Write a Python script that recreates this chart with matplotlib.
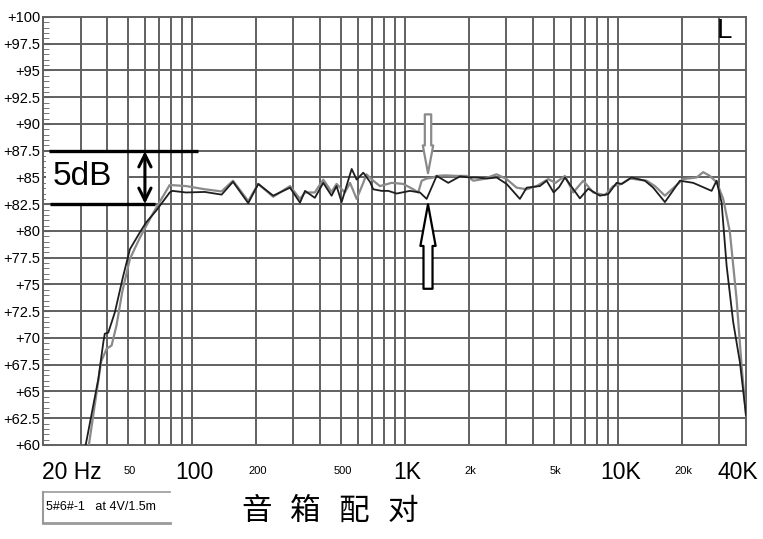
import numpy as np
import matplotlib
matplotlib.use('Agg')
import matplotlib.pyplot as plt
from matplotlib.patches import Rectangle, FancyArrowPatch
from matplotlib.lines import Line2D

plt.rcParams['font.family'] = ['Liberation Sans', 'Noto Sans CJK SC', 'DejaVu Sans']

# curve 1 (black) - frequency (Hz) / level (dB)
freq_black = [31.0, 31.8, 36.4, 38.4, 39.0, 40.5, 43.5, 47.6, 51.2, 57.1, 61, 68, 78.7, 81, 94,
              115, 138, 156, 184, 205, 241, 289, 322, 340, 378, 414, 453, 478, 505, 563,
              594, 638, 686, 711, 778, 836, 915, 1057, 1178, 1266, 1411, 1599, 1814, 2022,
              2174, 2422, 2698, 3006, 3470, 3732, 4308, 4632, 5000, 5300, 5646, 6638, 7262,
              8242, 9016, 9872, 10424, 11610, 13412, 14668, 16646, 19572, 22600, 27580,
              29100, 30720, 32440, 34820, 37440, 40000]
spl_black = [59.2, 60.1, 66.2, 69.6, 70.4, 70.5, 72.4, 75.8, 78.3, 79.9, 80.8, 81.9, 83.6, 83.75, 83.6,
             83.65, 83.4, 84.6, 82.6, 84.4, 83.3, 84.05, 82.65, 83.75, 83.1, 84.5, 83.3, 84.2, 82.7, 85.8,
             84.8, 85.45, 84.6, 83.9, 83.75, 83.75, 83.5, 83.75, 83.6, 83.0, 85.15, 84.5, 85.1, 85.0,
             85.0, 84.9, 85.0, 84.4, 83.0, 84.05, 84.2, 84.7, 83.6, 84.1, 85.0, 83.05, 83.95,
             83.3, 83.45, 84.5, 84.4, 85.0, 84.7, 84.05, 82.7, 84.7, 84.5, 83.75,
             84.7, 82.65, 76.75, 71.5, 67.75, 62.8]

# curve 2 (gray)
freq_gray = [32.2, 32.9, 37.5, 39.8, 42.0, 44.3, 47.1, 51.2, 57.1, 65.9, 78.7, 94, 115, 138, 156,
             184, 205, 241, 289, 322, 340, 378, 414, 453, 478, 523, 553, 594, 638, 660, 711,
             764, 867, 983, 1095, 1156, 1200, 1266, 1360, 1411, 1543, 1751, 1950, 2096, 2334,
             2698, 3006, 3350, 3732, 4158, 4712, 5100, 5646, 6178, 6880, 7668, 8700, 9518,
             10424, 11402, 13662, 14938, 16646, 20280, 23440, 25180, 27060, 28580, 29100,
             31260, 33600, 36120, 38140, 40000]
spl_gray = [59.2, 60.1, 67.8, 69.0, 69.3, 71.2, 74.3, 77.4, 79.4, 81.7, 84.3, 84.2, 83.9, 83.7, 84.7,
            82.8, 84.4, 83.2, 84.2, 83.0, 83.6, 83.6, 84.8, 83.65, 84.4, 83.6, 84.5, 83.0, 84.5, 85.3, 84.7,
            84.2, 84.5, 84.4, 83.9, 83.6, 84.7, 84.9, 85.0, 85.15, 85.2, 85.15, 85.15, 84.7, 84.85,
            85.3, 84.85, 84.05, 83.9, 84.2, 84.85, 84.5, 85.15, 83.6, 84.7, 83.6, 83.35, 84.2,
            84.4, 84.9, 84.7, 84.2, 83.3, 84.85, 85.0, 85.5, 85.15, 84.7, 84.6,
            83.0, 79.9, 73.65, 67.4, 62.8]

y_ticks = np.arange(60, 100.1, 2.5)
big_labels = {'100': 100, '1K': 1000, '10K': 10000}
small_labels = {'50': 50, '200': 200, '500': 500, '2k': 2000, '5k': 5000, '20k': 20000}
title_chars = ['音', '箱', '配', '对']

W, H = 763, 539
fig = plt.figure(figsize=(W / 100, H / 100), dpi=100)
ax = fig.add_axes([43 / W, (H - 445) / H, (746 - 43) / W, (445 - 17) / H])
ax.set_xscale('log')
ax.set_xlim(20, 40000)
ax.set_ylim(60, 100)

grid_c = '#606060'
for yv in y_ticks[1:-1]:
    ax.axhline(yv, color=grid_c, lw=1.4, zorder=1)
for dec in [10, 100, 1000, 10000]:
    for m in range(1, 10):
        f = dec * m
        if 20 < f < 40000:
            ax.axvline(f, color=grid_c, lw=1.4, zorder=1)
for s in ax.spines.values():
    s.set_color(grid_c)
    s.set_linewidth(1.4)

ax.set_yticks(y_ticks)
ax.set_yticklabels(['+%g' % v for v in y_ticks], fontsize=10.5)
ax.set_yticks(np.arange(60, 100, 0.5), minor=True)
ax.tick_params(axis='y', which='both', direction='in', length=5, color=grid_c, pad=2)
ax.tick_params(axis='y', which='minor', length=4)
ax.set_xticks([])
ax.set_xticks([], minor=True)

ax.plot(freq_gray, spl_gray, color='#8a8a8a', lw=1.6, zorder=4)
ax.plot(freq_black, spl_black, color='#1e1e1e', lw=1.3, zorder=5)

# x labels
ly = 57.4
ax.text(19.8, ly, '20 Hz', fontsize=16.5, ha='left', va='center', clip_on=False)
ax.text(36500, ly, '40K', fontsize=16.5, ha='center', va='center', clip_on=False)
for lab, f in big_labels.items():
    ax.text(f * 1.03, ly, lab, fontsize=16.5, ha='center', va='center', clip_on=False)
for lab, f in small_labels.items():
    ax.text(f * 1.02, ly + 0.15, lab, fontsize=8, ha='center', va='center', clip_on=False)

# 5dB marker
ax.add_patch(Rectangle((20.6, 82.65), 49.5 - 20.6, 4.7, facecolor='white', edgecolor='none', zorder=2))
ax.plot([21.3, 107], [87.5, 87.5], color='black', lw=2.4, zorder=6, solid_capstyle='butt')
ax.plot([21.5, 67], [82.5, 82.5], color='black', lw=2.4, zorder=6, solid_capstyle='butt')
ax.text(30.5, 85.05, '5dB', fontsize=24, ha='center', va='center', zorder=6)
ax.annotate('', xy=(60.2, 82.55), xytext=(60.2, 87.45),
            arrowprops=dict(arrowstyle='<->', color='black', lw=2.2, mutation_scale=22,
                            shrinkA=0, shrinkB=0), zorder=6)

# hollow arrows near 1.3k
ax.add_patch(FancyArrowPatch((1285, 90.9), (1285, 85.4),
                             arrowstyle='simple,head_length=20,head_width=7.5,tail_width=4.6',
                             mutation_scale=1, facecolor='white', edgecolor='#8a8a8a', lw=1.6,
                             shrinkA=0, shrinkB=0, zorder=7))
ax.add_patch(FancyArrowPatch((1285, 74.6), (1285, 82.5),
                             arrowstyle='simple,head_length=30,head_width=11,tail_width=6.5',
                             mutation_scale=1, facecolor='white', edgecolor='black', lw=1.6,
                             shrinkA=0, shrinkB=0, zorder=7))

# channel mark
ax.text(29300, 97.45, 'L', fontsize=20, ha='left', va='bottom', zorder=6)

# bottom caption box
fig.add_artist(Line2D([43 / W, 170 / W], [(H - 492) / H] * 2, color='#999999', lw=1.2))
fig.add_artist(Line2D([43 / W, 170 / W], [(H - 523) / H] * 2, color='#999999', lw=2))
fig.add_artist(Line2D([43 / W] * 2, [(H - 492) / H, (H - 523) / H], color='#999999', lw=1.5))
fig.text(46 / W, (H - 507) / H, '5#6#-1   at 4V/1.5m', fontsize=9, va='center', ha='left')
for i, ch in enumerate(title_chars):
    fig.text((257 + 48.5 * i) / W, (H - 511) / H, ch, fontsize=22, va='center', ha='center',
             family=['Noto Sans CJK SC', 'DejaVu Sans'], weight='light')

fig.savefig('out.png', dpi=100)
